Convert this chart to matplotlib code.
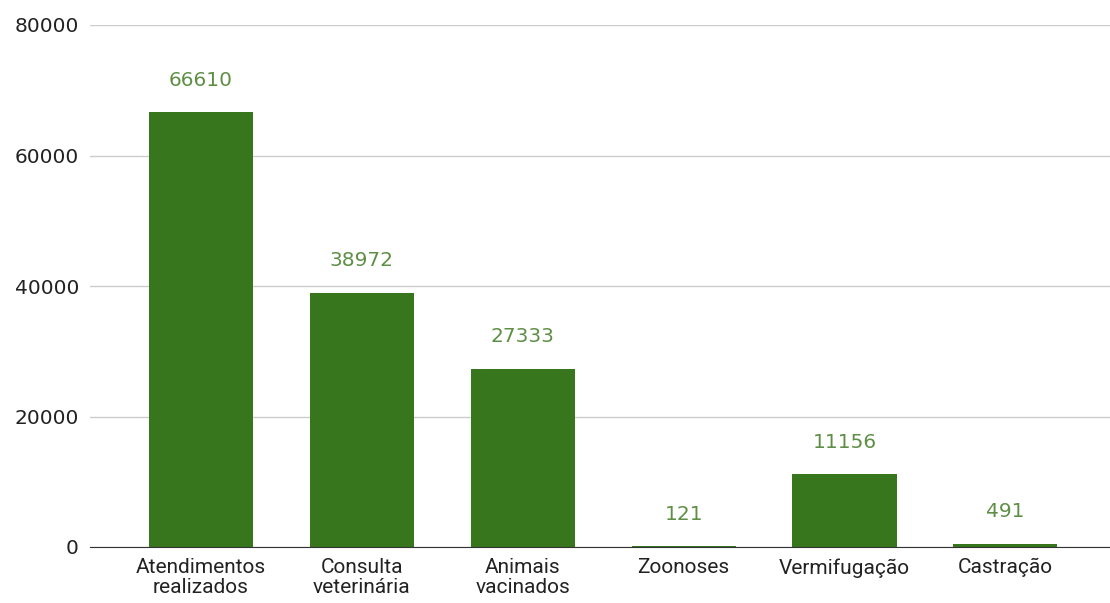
import matplotlib.pyplot as plt

categorias = ["Atendimentos\nrealizados", "Consulta\nveterinária", "Animais\nvacinados",
              "Zoonoses", "Vermifugação", "Castração"]
valores = [66610, 38972, 27333, 121, 11156, 491]
yticks = [0, 20000, 40000, 60000, 80000]

plt.rcParams['font.family'] = ['Roboto', 'DejaVu Sans']

fig = plt.figure(figsize=(11.1, 6.03), dpi=100)
ax = fig.add_axes([90 / 1110, 56 / 603, 1020 / 1110, 522 / 603])

x = range(len(valores))
ax.bar(x, valores, width=0.647, color="#38761d", zorder=3)

for xi, v in zip(x, valores):
    ax.annotate(str(v), (xi, v), xytext=(0, 19), textcoords="offset points",
                ha="center", va="baseline", fontsize=14.5, color="#5e8f45",
                family="DejaVu Sans")

ax.set_xlim(-0.69, 5.65)
ax.set_ylim(0, 80000)
ax.set_yticks(yticks)
ax.set_yticklabels([str(t) for t in yticks], family="DejaVu Sans", fontsize=14.5)
ax.set_xticks(list(x))
ax.set_xticklabels(categorias, linespacing=1.08, fontsize=15)

ax.grid(axis="y", color="#cccccc", linewidth=1, zorder=0)
for s in ["top", "right", "left"]:
    ax.spines[s].set_visible(False)
ax.spines["bottom"].set_color("#333333")
ax.spines["bottom"].set_zorder(4)

ax.tick_params(axis="both", length=0, labelcolor="#222222")
ax.tick_params(axis="y", pad=8)
ax.tick_params(axis="x", pad=8)

fig.savefig("out.png", dpi=100)
